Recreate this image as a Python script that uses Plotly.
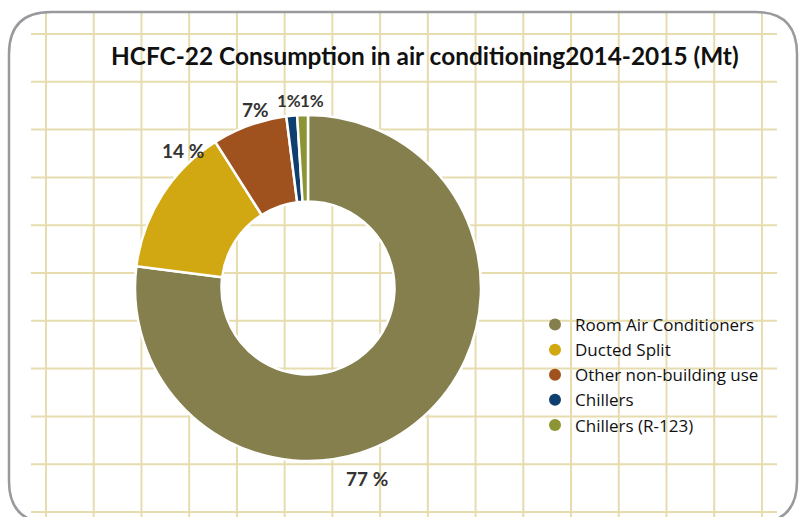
import plotly.graph_objects as go

# ---- data ----
categories = ["Room Air Conditioners", "Ducted Split", "Other non-building use", "Chillers", "Chillers (R-123)"]
shares = [77, 14, 7, 1, 1]
label_sep = [" ", " ", "", "", ""]
title_text = "HCFC-22 Consumption in air conditioning2014-2015 (Mt)"

# ---- style ----
colors = ["#857f4e", "#d2a812", "#a0521e", "#0f3f6e", "#8c9433"]
label_pos_px = [(367, 478), (183, 150), (255, 110), (289, 100), (312, 100)]
label_sizes = [19, 19, 19, 17, 17]

W, H = 799, 517
def px(x):
    return x / W
def py(y):
    return 1 - y / H

fig = go.Figure()

cx, cy, R = 308, 288, 173
fig.add_trace(go.Pie(
    labels=categories, values=shares, sort=False, direction="clockwise", rotation=0,
    hole=0.5, marker=dict(colors=colors, line=dict(color="white", width=2.5)),
    textinfo="none", showlegend=False, hoverinfo="label+percent",
    domain=dict(x=[px(cx - R), px(cx + R)], y=[py(cy + R), py(cy - R)]),
))

# legend entries with circle markers
for name, c in zip(categories, colors):
    fig.add_trace(go.Scatter(x=[None], y=[None], mode="markers", name=name,
                             marker=dict(symbol="circle", size=12, color=c)))

shapes = []
grid_col = "#e6dcae"
# vertical grid lines
for k in range(16):
    x = 46 + 47.73 * k
    shapes.append(dict(type="line", xref="paper", yref="paper", x0=px(x), x1=px(x),
                       y0=py(13), y1=py(517), line=dict(color=grid_col, width=2), layer="below"))
# horizontal grid lines
for k in range(11):
    y = 34 + 47.8 * k
    shapes.append(dict(type="line", xref="paper", yref="paper", x0=px(31), x1=px(777),
                       y0=py(y), y1=py(y), line=dict(color=grid_col, width=2), layer="below"))

# rounded border
L, T, Rr, B, r = 9, 12, 797, 523, 42
def P(x, y):
    return f"{px(x):.5f},{py(y):.5f}"
path = (f"M {P(L+r,T)} L {P(Rr-r,T)} Q {P(Rr,T)} {P(Rr,T+r)} L {P(Rr,B-r)} "
        f"Q {P(Rr,B)} {P(Rr-r,B)} L {P(L+r,B)} Q {P(L,B)} {P(L,B-r)} L {P(L,T+r)} "
        f"Q {P(L,T)} {P(L+r,T)} Z")
shapes.append(dict(type="path", xref="paper", yref="paper", path=path,
                   line=dict(color="#9a9a9e", width=2.5), layer="above"))

annotations = []
for v, sep, (lx, ly), fs in zip(shares, label_sep, label_pos_px, label_sizes):
    annotations.append(dict(x=px(lx), y=py(ly), xref="paper", yref="paper", showarrow=False,
                            text=f"<b>{v}{sep}%</b>", font=dict(size=fs, color="#333333", family="Lato"),
                            xanchor="center", yanchor="middle"))
annotations.append(dict(x=px(425), y=py(55), xref="paper", yref="paper", showarrow=False,
                        text=f"<b>{title_text}</b>", font=dict(size=24.4, color="#111111", family="Lato"),
                        xanchor="center", yanchor="middle"))

fig.update_layout(
    width=W, height=H, margin=dict(l=0, r=0, t=0, b=0),
    paper_bgcolor="white", plot_bgcolor="rgba(0,0,0,0)",
    xaxis=dict(visible=False), yaxis=dict(visible=False),
    shapes=shapes, annotations=annotations,
    legend=dict(x=px(535), y=py(307), xanchor="left", yanchor="top",
                bgcolor="rgba(0,0,0,0)", font=dict(size=17, color="#111111", family="Open Sans"),
                itemwidth=30, tracegroupgap=0),
)

fig.write_html("out.html", config={"displayModeBar": False},
               post_script="document.body.style.margin='0';document.body.style.overflow='hidden';")
